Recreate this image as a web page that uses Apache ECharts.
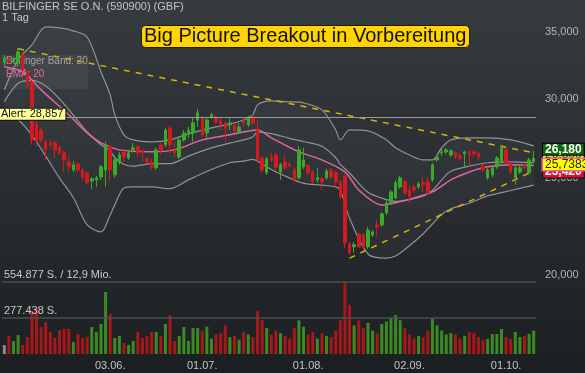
<!DOCTYPE html>
<html><head><meta charset="utf-8">
<script src="https://cdn.jsdelivr.net/npm/echarts@6/dist/echarts.min.js"></script>
<style>html,body{margin:0;padding:0;background:#2a2e32}#c{width:585px;height:373px}</style>
</head><body><div id="c"></div>
<script>
const dates = ['01.05.','02.05.','03.05.','06.05.','07.05.','08.05.','09.05.','10.05.','13.05.','14.05.','15.05.','16.05.','17.05.','20.05.','21.05.','22.05.','23.05.','24.05.','27.05.','28.05.','29.05.','30.05.','31.05.',
'03.06.','04.06.','05.06.','06.06.','07.06.','10.06.','11.06.','12.06.','13.06.','14.06.','17.06.','18.06.','19.06.','20.06.','21.06.','24.06.','25.06.','26.06.','27.06.','28.06.',
'01.07.','02.07.','03.07.','04.07.','05.07.','08.07.','09.07.','10.07.','11.07.','12.07.','15.07.','16.07.','17.07.','18.07.','19.07.','22.07.','23.07.','24.07.','25.07.','26.07.','29.07.','30.07.','31.07.',
'01.08.','02.08.','05.08.','06.08.','07.08.','08.08.','09.08.','12.08.','13.08.','14.08.','15.08.','16.08.','19.08.','20.08.','21.08.','22.08.','23.08.','26.08.','27.08.','28.08.','29.08.','30.08.',
'02.09.','03.09.','04.09.','05.09.','06.09.','09.09.','10.09.','11.09.','12.09.','13.09.','16.09.','17.09.','18.09.','19.09.','20.09.','23.09.','24.09.','25.09.','26.09.','27.09.','30.09.',
'01.10.','02.10.','03.10.','04.10.','07.10.','08.10.','09.10.'];
const dateLabels = ['03.06.','01.07.','01.08.','02.09.','01.10.'];

const open = [32.60,32.82,32.67,32.67,33.20,31.92,31.13,28.26,27.93,27.18,
27.11,27.11,26.81,26.50,25.95,25.48,25.83,25.48,25.31,24.84,
24.90,25.07,25.48,26.87,25.19,25.89,26.56,26.19,26.68,26.87,
26.62,26.13,25.95,25.60,26.99,26.99,28.06,26.62,26.25,27.30,
27.74,27.74,28.58,28.71,27.74,28.78,28.78,28.58,28.39,28.26,
28.26,27.80,28.52,28.26,28.78,27.93,26.19,25.31,26.25,26.37,
25.36,25.95,25.83,25.48,25.02,25.66,25.72,25.36,24.90,24.96,
25.02,25.48,25.31,24.79,25.13,21.50,21.35,21.99,21.94,21.35,
21.94,22.45,22.45,23.08,23.62,23.89,24.50,24.79,24.33,24.50,
24.50,24.73,24.79,24.90,26.07,26.50,26.56,26.37,26.50,26.31,
26.44,26.56,26.56,26.44,25.72,25.02,25.19,25.66,25.95,26.68,
25.89,25.02,25.36,25.78,25.31,25.95];
const close = [32.97,32.67,32.90,33.43,32.07,31.13,27.30,27.18,27.30,26.68,
26.99,26.68,26.50,26.07,25.66,25.78,25.48,25.07,24.73,24.96,
25.02,25.66,26.99,25.48,26.07,26.37,26.25,26.50,26.81,26.50,
26.50,25.95,25.60,26.68,26.68,27.93,26.99,26.50,27.30,27.74,
27.93,28.39,29.05,27.62,28.58,28.92,28.45,28.26,28.06,28.39,
27.87,28.12,28.39,28.71,28.39,26.07,25.48,26.13,26.07,25.60,
25.78,25.60,25.72,24.90,26.68,26.07,25.31,24.79,25.02,24.79,
25.42,25.07,24.79,23.95,21.54,21.05,21.45,21.35,21.35,22.19,
22.09,22.34,23.03,23.62,24.22,24.73,25.02,24.17,23.95,24.33,
24.67,24.62,24.17,25.78,26.25,26.56,26.68,26.62,26.25,26.19,
26.56,26.37,26.44,26.25,25.48,25.48,25.60,26.19,26.81,25.89,
25.36,25.60,25.60,25.60,26.07,26.18];
const high = [33.20,33.05,33.05,33.74,33.43,32.07,31.34,28.58,28.12,27.30,
27.30,27.24,26.93,26.62,26.25,26.01,25.95,25.60,25.36,25.07,
25.13,25.78,27.18,26.99,26.37,26.56,26.68,26.62,27.11,26.99,
26.74,26.25,26.19,26.81,27.11,28.06,28.26,27.18,27.43,27.93,
28.12,28.71,29.32,28.85,28.78,29.05,28.92,28.78,28.52,28.71,
28.39,28.39,28.71,28.85,28.92,28.58,26.31,26.25,26.50,26.50,
25.89,26.37,25.95,25.60,26.93,26.81,25.83,25.48,25.60,25.07,
25.54,25.60,25.42,24.90,25.25,21.59,21.59,22.04,22.04,22.34,
22.19,22.71,23.13,23.78,24.33,24.90,25.13,24.90,24.62,24.67,
24.79,25.07,25.07,25.89,26.37,26.74,26.81,26.74,26.62,26.44,
26.62,26.68,26.68,26.56,25.83,25.60,25.72,26.31,26.99,26.81,
26.01,25.72,25.72,25.89,26.19,26.62];
const low = [32.37,32.52,32.52,32.30,31.92,30.77,26.99,26.87,27.11,26.07,
26.81,26.19,26.37,25.36,25.36,25.36,25.36,24.90,24.62,24.39,
24.50,24.90,24.50,24.79,25.02,25.78,25.95,26.07,26.50,26.25,
25.95,25.83,25.48,25.48,26.37,26.87,26.50,26.25,26.13,27.18,
27.43,27.18,28.12,27.43,27.43,28.65,28.32,27.93,27.18,27.93,
27.74,27.68,28.12,28.12,28.26,25.95,25.31,25.19,25.95,25.48,
24.90,25.48,25.60,24.79,24.90,25.54,25.19,24.67,24.73,24.33,
24.90,24.96,24.50,23.84,21.30,20.96,21.05,21.30,21.25,21.25,
21.84,21.84,22.34,22.97,23.51,23.84,24.39,24.06,23.62,24.17,
24.39,24.22,24.06,24.79,25.95,26.31,26.44,26.25,26.13,26.07,
25.66,25.66,26.25,26.07,25.36,24.90,25.07,25.54,25.83,25.78,
25.25,24.62,25.25,25.48,25.19,25.90];
const volume = [69000,139000,100000,146000,69000,131000,324000,355000,208000,247000,
170000,123000,185000,193000,193000,92000,154000,123000,131000,208000,
170000,231000,478000,308000,123000,139000,85000,69000,100000,170000,
123000,139000,170000,170000,139000,231000,301000,100000,139000,208000,
100000,200000,200000,180000,210000,120000,150000,160000,220000,130000,
140000,110000,170000,150000,130000,330000,260000,200000,150000,180000,
160000,140000,120000,200000,260000,210000,150000,170000,120000,160000,
140000,130000,180000,260000,554877,380000,220000,260000,200000,240000,
180000,160000,230000,250000,280000,300000,260000,200000,150000,120000,
140000,130000,180000,270000,220000,180000,150000,160000,150000,120000,
140000,170000,160000,130000,108000,116000,154000,154000,193000,131000,
116000,170000,131000,139000,154000,180000];

const bbIdx   = [0,3,6,9,12,15,18,21,23,24,26,28,32,36,40,45,49,52,54,55,58,62,65,69,72,73,75,79,83,85,88,91,93,95,97,101,105,110,115];
const bbUpper = [30.63,32.82,33.97,35.40,35.32,35.08,34.59,31.92,30.28,28.92,27.62,27.30,27.18,27.30,27.68,28.06,28.32,28.58,28.92,29.59,29.86,29.80,29.73,29.25,27.93,27.30,27.93,27.87,27.30,26.81,26.37,26.07,26.07,26.81,27.30,27.43,27.43,27.30,26.93];
const bbMiddle= [29.8,31.1,31.3,30.9,30.0,28.9,27.8,27.0,26.6,26.2,25.8,25.7,25.85,25.85,26.3,26.8,27.1,27.3,27.5,27.8,27.7,27.4,27.2,26.9,26.2,25.8,25.3,24.2,23.8,23.7,23.8,24.0,24.3,24.9,25.4,25.7,25.9,25.95,25.9];
const bbLower = [29.0,28.6,27.6,26.3,25.0,23.9,22.45,22.09,22.97,23.51,24.44,24.50,24.5,24.4,24.9,25.5,25.9,26.0,26.1,26.0,25.5,25.0,24.7,24.6,24.5,24.3,22.8,21.0,20.8,20.9,21.4,22.0,22.5,23.0,23.3,23.6,24.0,24.3,24.6];
const emaIdx  = [0,4,8,14,18,21,25,32,37,43,49,55,58,64,69,74,77,82,85,89,93,97,101,105,110,115];
const emaVal  = [32.30,31.92,30.63,28.92,27.74,27.11,26.68,26.56,26.68,27.30,27.62,27.93,27.43,26.56,26.07,25.36,24.33,23.51,23.62,23.89,24.22,24.90,25.36,25.66,25.78,25.7383];
const trendUpper = [[3,33.66],[115,26.50]];
const trendLower = [[75,20.80],[115,25.42]];
const priceTicks = [20,25,30,35];
const priceRange = [19.33,37.66];
const alertLevel = 28.857;
const volLines = [554877,277438];
const volTurnover = '12,9 Mio.';

const L = Math.log;
const de = (v, d) => v.toFixed(d).replace('.', ',');
const deInt = v => String(Math.round(v)).replace(/\B(?=(\d{3})+(?!\d))/g, '.');
const last = close.length - 1;
const UP = '#3daa27', DOWN = '#d41a1f';
const candle = open.map((o,i)=>[L(o), L(close[i]), L(low[i]), L(high[i])]);
const volData = volume.map((v,i)=>({value:v, itemStyle:{color: i===0 ? '#8a8a8a' : (close[i]>=open[i] ? '#3a8c22' : '#a8181b')}}));
const pairs = (idx, vals) => idx.map((x,k)=>[x, L(vals[k])]);
const font = '"Liberation Sans", Arial, sans-serif';
const tag = (val, txt, z, off, bg, border, bw, color, bold) => ({symbol:'none',silent:true,z:z,data:[{yAxis:L(val),lineStyle:{width:0},
  label:{position:'end',distance:7,offset:[0,off],formatter:txt,backgroundColor:bg,borderColor:border,borderWidth:bw,
    color:color,fontWeight:bold?'bold':'normal',fontSize:12,padding:[0,2,0,2],lineHeight:11}}]});

const chart = echarts.init(document.getElementById('c'), null, {renderer:'canvas'});
chart.setOption({
  animation:false,
  backgroundColor:{type:'linear',x:0,y:0,x2:0,y2:1,colorStops:[{offset:0,color:'#363b40'},{offset:1,color:'#1c1f22'}]},
  textStyle:{fontFamily:font},
  title:{text:'Big Picture Breakout in Vorbereitung', left:141, top:25,
    backgroundColor:'#ffd400', borderColor:'#1a1a1a', borderWidth:1, borderRadius:4, padding:[1,3,1,3],
    textStyle:{fontSize:20, fontWeight:'normal', color:'#111', fontFamily:font, lineHeight:21}},
  graphic:[
    {type:'text', left:2, top:1, style:{text:'BILFINGER SE O.N. (590900) (GBF)', fill:'#c6c6c6', font:'11px '+font}},
    {type:'text', left:2, top:12, style:{text:'1 Tag', fill:'#c6c6c6', font:'11px '+font}},
    {type:'rect', left:0, top:55, shape:{width:88,height:34}, style:{fill:'rgba(255,255,255,0.05)'}},
    {type:'text', left:6, top:56, style:{text:'Bollinger Band: 20', fill:'#a0a0a0', font:'10px '+font}},
    {type:'text', left:6, top:69, style:{text:'EMA: 20', fill:'#e06aa5', font:'10px '+font}}
  ],
  grid:[{left:2,right:49,top:0,height:290},{left:2,right:49,top:282,height:72}],
  xAxis:[
    {type:'category',data:dates,gridIndex:0,boundaryGap:true,show:false},
    {type:'category',data:dates,gridIndex:1,boundaryGap:true,
      axisLine:{show:false},axisTick:{show:false},
      axisLabel:{interval:(i,v)=>dateLabels.includes(v), color:'#c4c4c4', fontSize:11, margin:6}}
  ],
  yAxis:[
    {type:'value',gridIndex:0,position:'right',min:L(priceRange[0]),max:L(priceRange[1]),
      splitLine:{show:false},axisLine:{show:false},axisTick:{show:false},
      axisLabel:{customValues:priceTicks.map(L), formatter:v=>de(Math.exp(v),3), color:'#b4b4b4', fontSize:11, margin:9}},
    {type:'value',gridIndex:1,min:0,max:volLines[0],show:false}
  ],
  series:[
    {type:'line',data:pairs(bbIdx,bbLower),stack:'bb',showSymbol:false,smooth:0.3,connectNulls:true,lineStyle:{opacity:0},silent:true},
    {type:'line',data:bbIdx.map((x,k)=>[x, L(bbUpper[k])-L(bbLower[k])]),stack:'bb',showSymbol:false,smooth:0.3,connectNulls:true,
      lineStyle:{opacity:0},areaStyle:{color:'rgba(255,255,255,0.045)'},silent:true},
    {type:'line',data:pairs(bbIdx,bbUpper),showSymbol:false,smooth:0.3,lineStyle:{color:'#8f9396',width:1.2},silent:true},
    {type:'line',data:pairs(bbIdx,bbMiddle),showSymbol:false,smooth:0.3,lineStyle:{color:'#8f9396',width:1.2},silent:true},
    {type:'line',data:pairs(bbIdx,bbLower),showSymbol:false,smooth:0.3,lineStyle:{color:'#8f9396',width:1.2},silent:true},
    {type:'line',data:pairs(emaIdx,emaVal),showSymbol:false,smooth:0.3,lineStyle:{color:'#e564a3',width:1.5},silent:true,
      markLine:tag(emaVal[emaVal.length-1], de(emaVal[emaVal.length-1],4), 30, 0, '#ffff00', '#e564a3', 1.5, '#222', false)},
    {type:'line',data:trendUpper.map(p=>[p[0],L(p[1])]),showSymbol:false,lineStyle:{color:'#d8b400',width:1.5,type:[6,6]},silent:true,z:3,
      markLine:tag(trendUpper[1][1], de(trendUpper[1][1],3), 26, 3, '#ffe600', '#111', 1, '#222', false)},
    {type:'line',data:trendLower.map(p=>[p[0],L(p[1])]),showSymbol:false,lineStyle:{color:'#d8b400',width:1.5,type:[6,6]},silent:true,z:3,
      markLine:tag(trendLower[1][1], de(trendLower[1][1],3), 27, 3, '#e0102a', '#111', 1, '#fff', true)},
    {type:'candlestick',data:candle,barWidth:3,z:4,
      itemStyle:{color:UP,color0:DOWN,borderColor:UP,borderColor0:DOWN,borderWidth:1},
      markLine:{symbol:'none',silent:true,z:20,data:[
        {yAxis:L(alertLevel),lineStyle:{color:'#9a9a9a',width:1,type:'solid'},
          label:{position:'insideStartTop',distance:-3,formatter:'Alert: '+de(alertLevel,3),backgroundColor:'#ffff99',borderColor:'#111',borderWidth:1,
            color:'#111',fontSize:11,padding:[0,2,0,2],lineHeight:11}}]}},
    {type:'line',data:[[last, L(close[last])]],showSymbol:false,lineStyle:{width:0},silent:true,
      markLine:tag(close[last], de(close[last],3), 40, -11, '#0b6a0b', '#000', 1, '#fff', true)},
    {type:'bar',data:volData,xAxisIndex:1,yAxisIndex:1,barWidth:3,silent:true,
      markLine:{symbol:'none',silent:true,lineStyle:{color:'#4a4f54',width:1.5,type:'solid'},
        label:{position:'insideStartTop',distance:2,color:'#c8c8c8',fontSize:11},
        data:[{yAxis:volLines[0],label:{formatter:deInt(volLines[0])+' S. / '+volTurnover}},
              {yAxis:volLines[1],label:{formatter:deInt(volLines[1])+' S.'}}]}}
  ]
});
</script></body></html>
